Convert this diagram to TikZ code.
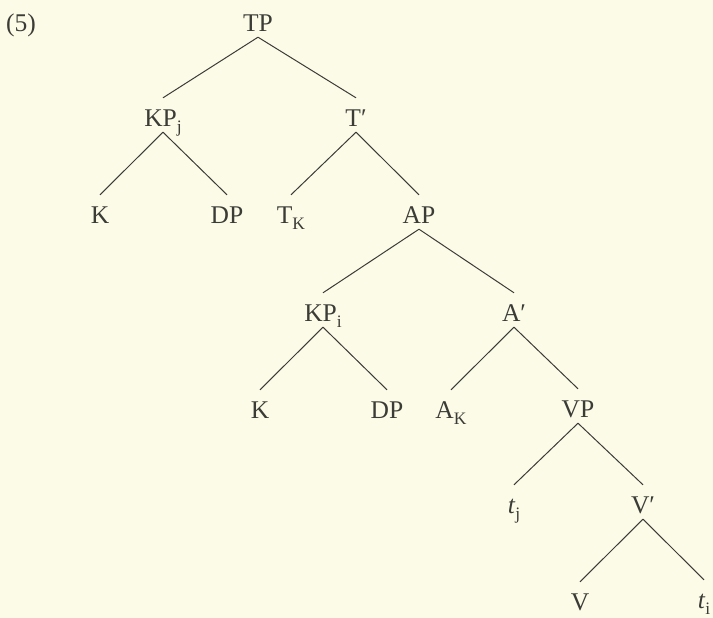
\documentclass[tikz,border=0pt]{standalone}
\usepackage{fontspec}
\setmainfont{Liberation Serif}
\usepackage{tikz}
\definecolor{paper}{RGB}{252,251,232}
\definecolor{ink}{RGB}{60,60,55}
\newcommand{\lsub}[1]{\raisebox{-6pt}{\fontsize{17.5}{20}\selectfont #1}}
\tikzstyle{cat}=[text=ink,font=\fontsize{25.5}{30}\selectfont,text height=17pt,text depth=0pt,inner xsep=0pt,inner ysep=5.5pt]

\begin{document}
\begin{tikzpicture}[x=1pt,y=1pt,
branch/.style={draw=ink,line width=1pt},
]
\fill[paper] (0,0) rectangle (713,-618);
\useasboundingbox (0,0) rectangle (713,-618);
\node[cat] (ex)[xshift=21, yshift=-23] {(5)};
% first level
\node[cat] (TP)[xshift=258, yshift=-23] {TP};
\node[cat] (KPj)[xshift=163, yshift=-118] {KP\lsub{j}};
\node[cat] (Tbar)[xshift=356, yshift=-118] {T′};
\node[cat] (Ka)[xshift=100, yshift=-215] {K};
\node[cat] (DPa)[xshift=227, yshift=-215] {DP};
\node[cat] (TK)[xshift=291, yshift=-215] {T\lsub{K}};
\node[cat] (AP)[xshift=419, yshift=-215] {AP};
% lower part
\node[cat] (KPi)[xshift=323, yshift=-313] {KP\lsub{i}};
\node[cat] (Abar)[xshift=514, yshift=-313] {A′};
\node[cat] (Kb)[xshift=260, yshift=-410] {K};
\node[cat] (DPb)[xshift=387, yshift=-410] {DP};
\node[cat] (AK)[xshift=451, yshift=-410] {A\lsub{K}};
\node[cat] (VP)[xshift=578, yshift=-409] {VP};
\node[cat] (tj)[xshift=514, yshift=-505] {\textit{t}\lsub{j}};
\node[cat] (Vbar)[xshift=643, yshift=-505] {V′};
\node[cat] (V)[xshift=580, yshift=-602] {V};
\node[cat] (ti)[xshift=704, yshift=-600] {\textit{t}\lsub{i}};
\foreach \m/\d in {TP/KPj,TP/Tbar,KPj/Ka,KPj/DPa,Tbar/TK,Tbar/AP,AP/KPi,AP/Abar,
  KPi/Kb,KPi/DPb,Abar/AK,Abar/VP,VP/tj,VP/Vbar,Vbar/V,Vbar/ti}
  \draw[branch] (\m.south) -- ([yshift=6pt]\d.north);
\end{tikzpicture}
\end{document}
